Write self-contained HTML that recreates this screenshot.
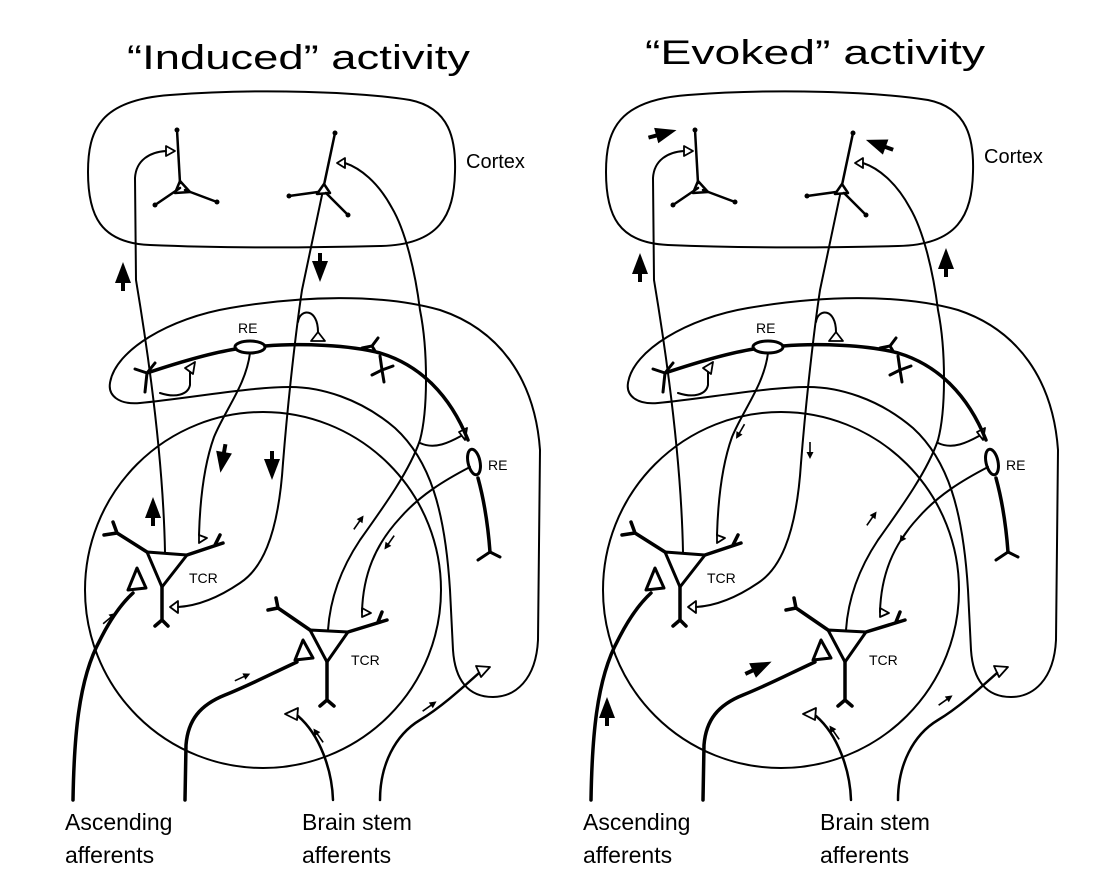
<!DOCTYPE html>
<html><head><meta charset="utf-8"><style>
html,body{margin:0;padding:0;background:#fff;}
svg{display:block;}
text{font-family:"Liberation Sans",sans-serif;fill:#000;}
</style></head><body>
<svg width="1120" height="894" viewBox="0 0 1120 894" xmlns="http://www.w3.org/2000/svg">
<defs>
  <g id="big"><polygon points="0,-15 -8,6 8,6" fill="#000"/><rect x="-2" y="4" width="4" height="10" fill="#000"/></g>
  <g id="sm"><line x1="0" y1="9" x2="0" y2="-4" stroke="#000" stroke-width="1.6"/><polygon points="0,-8 -3.5,-1 3.5,-1" fill="#000"/></g>
  <g id="P" fill="none" stroke="#000" stroke-linecap="round" stroke-linejoin="round">
    <!-- cortex -->
    <path d="M170,95 C260,88 360,92 410,100 C450,108 456,140 455,172 C454,215 440,245 380,246 C300,248 220,248 150,245 C100,243 88,215 88,172 C88,130 100,100 170,95 Z" stroke-width="2"/>
    <!-- big circle -->
    <circle cx="263" cy="590" r="178" stroke-width="2"/>
    <!-- RE band -->
    <path d="M110,383 C115,350 170,318 230,308 C300,296 380,293 440,310 C500,330 535,380 540,450 L538,640 C536,680 515,697 493,697 C468,697 455,680 453,650 L450,590 C445,510 430,460 395,428 C360,398 320,387 290,387 C250,387 190,398 140,403 C118,405 108,395 110,383 Z" stroke-width="2"/>
    <!-- cortical neurons -->
    <g stroke-width="2.5">
      <path d="M180,183 L177,130 M180,188 L155,205 M185,190 L217,202"/>
      <polygon points="180,181 175,193 190,192"/>
      <path d="M324,185 L335,133 M318,192 L289,196 M326,193 L348,215"/>
      <polygon points="324,184 317,194 330,193"/>
    </g>
    <g fill="#000" stroke="none">
      <circle cx="177" cy="130" r="2.5"/><circle cx="155" cy="205" r="2.5"/><circle cx="217" cy="202" r="2.5"/>
      <circle cx="335" cy="133" r="2.5"/><circle cx="289" cy="196" r="2.5"/><circle cx="348" cy="215" r="2.5"/>
    </g>
    <path d="M165,552 C163,450 146,340 136,280 L135,178 C136,160 150,152 166,151" stroke-width="2"/>
    <polygon points="166,146 175,151 166,156" stroke-width="1.8"/>
    <path d="M322,195 L302,290 C296,330 288,400 283,463 C278,540 260,570 240,583 C215,600 195,606 178,607" stroke-width="2"/>
    <polygon points="178,601 170,607 178,613" stroke-width="1.8"/>
    <path d="M298,322 C300,308 318,308 318,332" stroke-width="2"/>
    <polygon points="318,332 311,341 325,341" stroke-width="1.8"/>
    <path d="M328,630 C330,600 340,570 360,540 C385,505 410,470 420,440 C428,410 428,350 420,310 C415,270 405,230 392,208 C378,182 360,168 345,163" stroke-width="2"/>
    <polygon points="345,158 337,163 345,168" stroke-width="1.8"/>
    <path d="M420,443 C435,450 450,442 461,436" stroke-width="2"/>
    <polygon points="459,432 467,428 465,440" stroke-width="1.8"/>
    <path d="M147,373 C180,362 210,353 236,349 M265,346 C300,343 350,345 380,353 C420,365 450,395 468,440 M478,478 C484,500 488,525 490,552" stroke-width="3.5"/>
    <ellipse cx="250" cy="347" rx="15" ry="6" stroke-width="3"/>
    <ellipse cx="474" cy="462" rx="6" ry="13" transform="rotate(-12 474 462)" stroke-width="3"/>
    <path d="M135,369 L147,373 L155,363 M147,373 L145,392 M490,552 L478,560 M490,552 L500,557" stroke-width="3"/>
    <path d="M362,348 L372,346 L378,338 M372,346 L375,351 M380,356 L382,370 M382,370 L372,375 M382,370 L393,366 M382,370 L384,382" stroke-width="3"/>
    <path d="M160,393 C175,398 188,395 190,385 L190,372" stroke-width="2"/>
    <polygon points="185,368 195,362 193,374" stroke-width="1.8"/>
    <path d="M250,353 C246,385 225,410 214,437 C204,465 200,500 199,535" stroke-width="2"/>
    <polygon points="199,535 207,538 199,543" stroke-width="1.8"/>
    <path d="M470,467 C445,480 420,495 400,518 C375,545 363,575 362,612" stroke-width="2"/>
    <polygon points="362,608 371,613 362,617" stroke-width="1.8"/>
    <g stroke-width="3.5">
      <path d="M147,552 L187,555 L162,587 Z" stroke-width="3"/>
      <path d="M162,587 L162,620 M162,620 L155,626 M162,620 L168,626"/>
      <path d="M147,552 L117,533 M117,533 L113,522 M117,533 L104,535"/>
      <path d="M187,555 L223,543 M215,545 L220,535"/>
    </g>
    <polygon points="137,568 128,590 146,588" stroke-width="3"/>
    <g stroke-width="3.5">
      <path d="M310,630 L348,632 L327,662 Z" stroke-width="3"/>
      <path d="M327,662 L327,700 M327,700 L320,706 M327,700 L334,706"/>
      <path d="M310,630 L278,608 M278,608 L276,598 M278,608 L268,610"/>
      <path d="M348,632 L387,620 M378,622 L382,612"/>
    </g>
    <polygon points="303,640 295,660 313,658" stroke-width="3"/>
    <path d="M73,800 C74,740 78,680 100,640 C110,620 120,605 133,593" stroke-width="3.5"/>
    <path d="M185,800 L186,745 C188,720 200,705 225,695 C250,685 275,672 297,662" stroke-width="3.5"/>
    <path d="M333,800 C332,770 320,735 298,716" stroke-width="2.5"/>
    <polygon points="298,708 285,714 297,720" stroke-width="1.8"/>
    <path d="M380,800 C380,765 395,735 420,720 C440,708 460,690 479,673" stroke-width="2.5"/>
    <polygon points="476,666 490,667 481,677" stroke-width="1.8"/>
  </g>
</defs>

<text x="127" y="69" font-size="34" textLength="343" lengthAdjust="spacingAndGlyphs">“Induced” activity</text>
<text x="645" y="64" font-size="34" textLength="340" lengthAdjust="spacingAndGlyphs">“Evoked” activity</text>

<use href="#P"/>
<use href="#P" transform="translate(518,0)"/>

<g font-size="20">
<text x="466" y="168">Cortex</text>
<text x="984" y="163">Cortex</text>
</g>
<g font-size="14">
<text x="238" y="333">RE</text><text x="488" y="470">RE</text>
<text x="189" y="583">TCR</text><text x="351" y="665">TCR</text>
<text x="756" y="333">RE</text><text x="1006" y="470">RE</text>
<text x="707" y="583">TCR</text><text x="869" y="665">TCR</text>
</g>
<g font-size="23">
<text x="65" y="830">Ascending</text><text x="65" y="863">afferents</text>
<text x="302" y="830">Brain stem</text><text x="302" y="863">afferents</text>
<text x="583" y="830">Ascending</text><text x="583" y="863">afferents</text>
<text x="820" y="830">Brain stem</text><text x="820" y="863">afferents</text>
</g>

<use href="#big" transform="translate(123,277)"/>
<use href="#big" transform="translate(153,512)"/>
<use href="#big" transform="translate(320,267) rotate(180)"/>
<use href="#big" transform="translate(272,465) rotate(180)"/>
<use href="#big" transform="translate(223,458) rotate(190)"/>
<use href="#sm" transform="translate(110,618) rotate(50)"/>
<use href="#sm" transform="translate(243,677) rotate(65)"/>
<use href="#sm" transform="translate(318,735) rotate(-35)"/>
<use href="#sm" transform="translate(430,706) rotate(55)"/>
<use href="#sm" transform="translate(359,522) rotate(35)"/>
<use href="#sm" transform="translate(389,543) rotate(215)"/>

<use href="#big" transform="translate(662,134) rotate(75)"/>
<use href="#big" transform="translate(880,145) rotate(-70)"/>
<use href="#big" transform="translate(640,268)"/>
<use href="#big" transform="translate(946,263)"/>
<use href="#sm" transform="translate(740,432) rotate(210)"/>
<use href="#sm" transform="translate(810,451) rotate(180)"/>
<use href="#big" transform="translate(607,712)"/>
<use href="#big" transform="translate(758,668) rotate(65)"/>
<use href="#sm" transform="translate(872,518) rotate(35)"/>
<use href="#sm" transform="translate(904,536) rotate(215)"/>
<use href="#sm" transform="translate(834,732) rotate(-35)"/>
<use href="#sm" transform="translate(946,700) rotate(55)"/>
</svg>
</body></html>
